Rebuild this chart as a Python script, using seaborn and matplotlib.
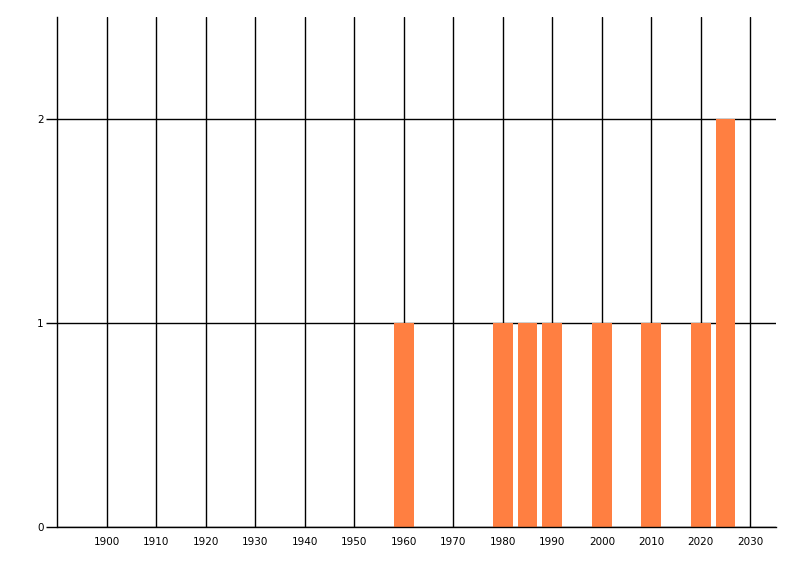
import numpy as np
import pandas as pd
import matplotlib
matplotlib.use("Agg")
import matplotlib.pyplot as plt
import seaborn as sns

# dados
anos = [1960, 1980, 1985, 1990, 2000, 2010, 2020, 2025]
contagens = [1, 1, 1, 1, 1, 1, 1, 2]
ticks_x = list(range(1900, 2031, 10))
ticks_y = [0, 1, 2]

sns.set_style("white")
plt.rcParams['font.family'] = ['DejaVu Sans']

df = pd.DataFrame({'ano': anos, 'n': contagens})

fig = plt.figure(figsize=(8, 5.76), dpi=100)
ax = fig.add_axes([57.5 / 800, 49 / 576, (776 - 57.5) / 800, (527 - 17) / 576])

sns.barplot(data=df, x='ano', y='n', native_scale=True, color='#FF7F41',
            saturation=1, linewidth=0, width=0.8, ax=ax)

ax.set_xlim(1890, 2035.2)
ax.set_ylim(0, 2.5)
ax.set_xticks(ticks_x)
ax.set_xticklabels([str(t) for t in ticks_x])
ax.set_yticks(ticks_y)
ax.set_xlabel('')
ax.set_ylabel('')

# grade atrás das barras
ax.set_axisbelow(True)
ax.grid(True, color='black', linewidth=1)
for s in ['top', 'right']:
    ax.spines[s].set_visible(False)
for s in ['left', 'bottom']:
    ax.spines[s].set_color('black')
    ax.spines[s].set_linewidth(1)

ax.tick_params(axis='x', length=0, pad=7, labelsize=7.5, labelcolor='black')
ax.tick_params(axis='y', length=8, width=1, color='black', pad=2, labelsize=7.5,
               labelcolor='black', left=True)

fig.savefig('out.png', dpi=100)
